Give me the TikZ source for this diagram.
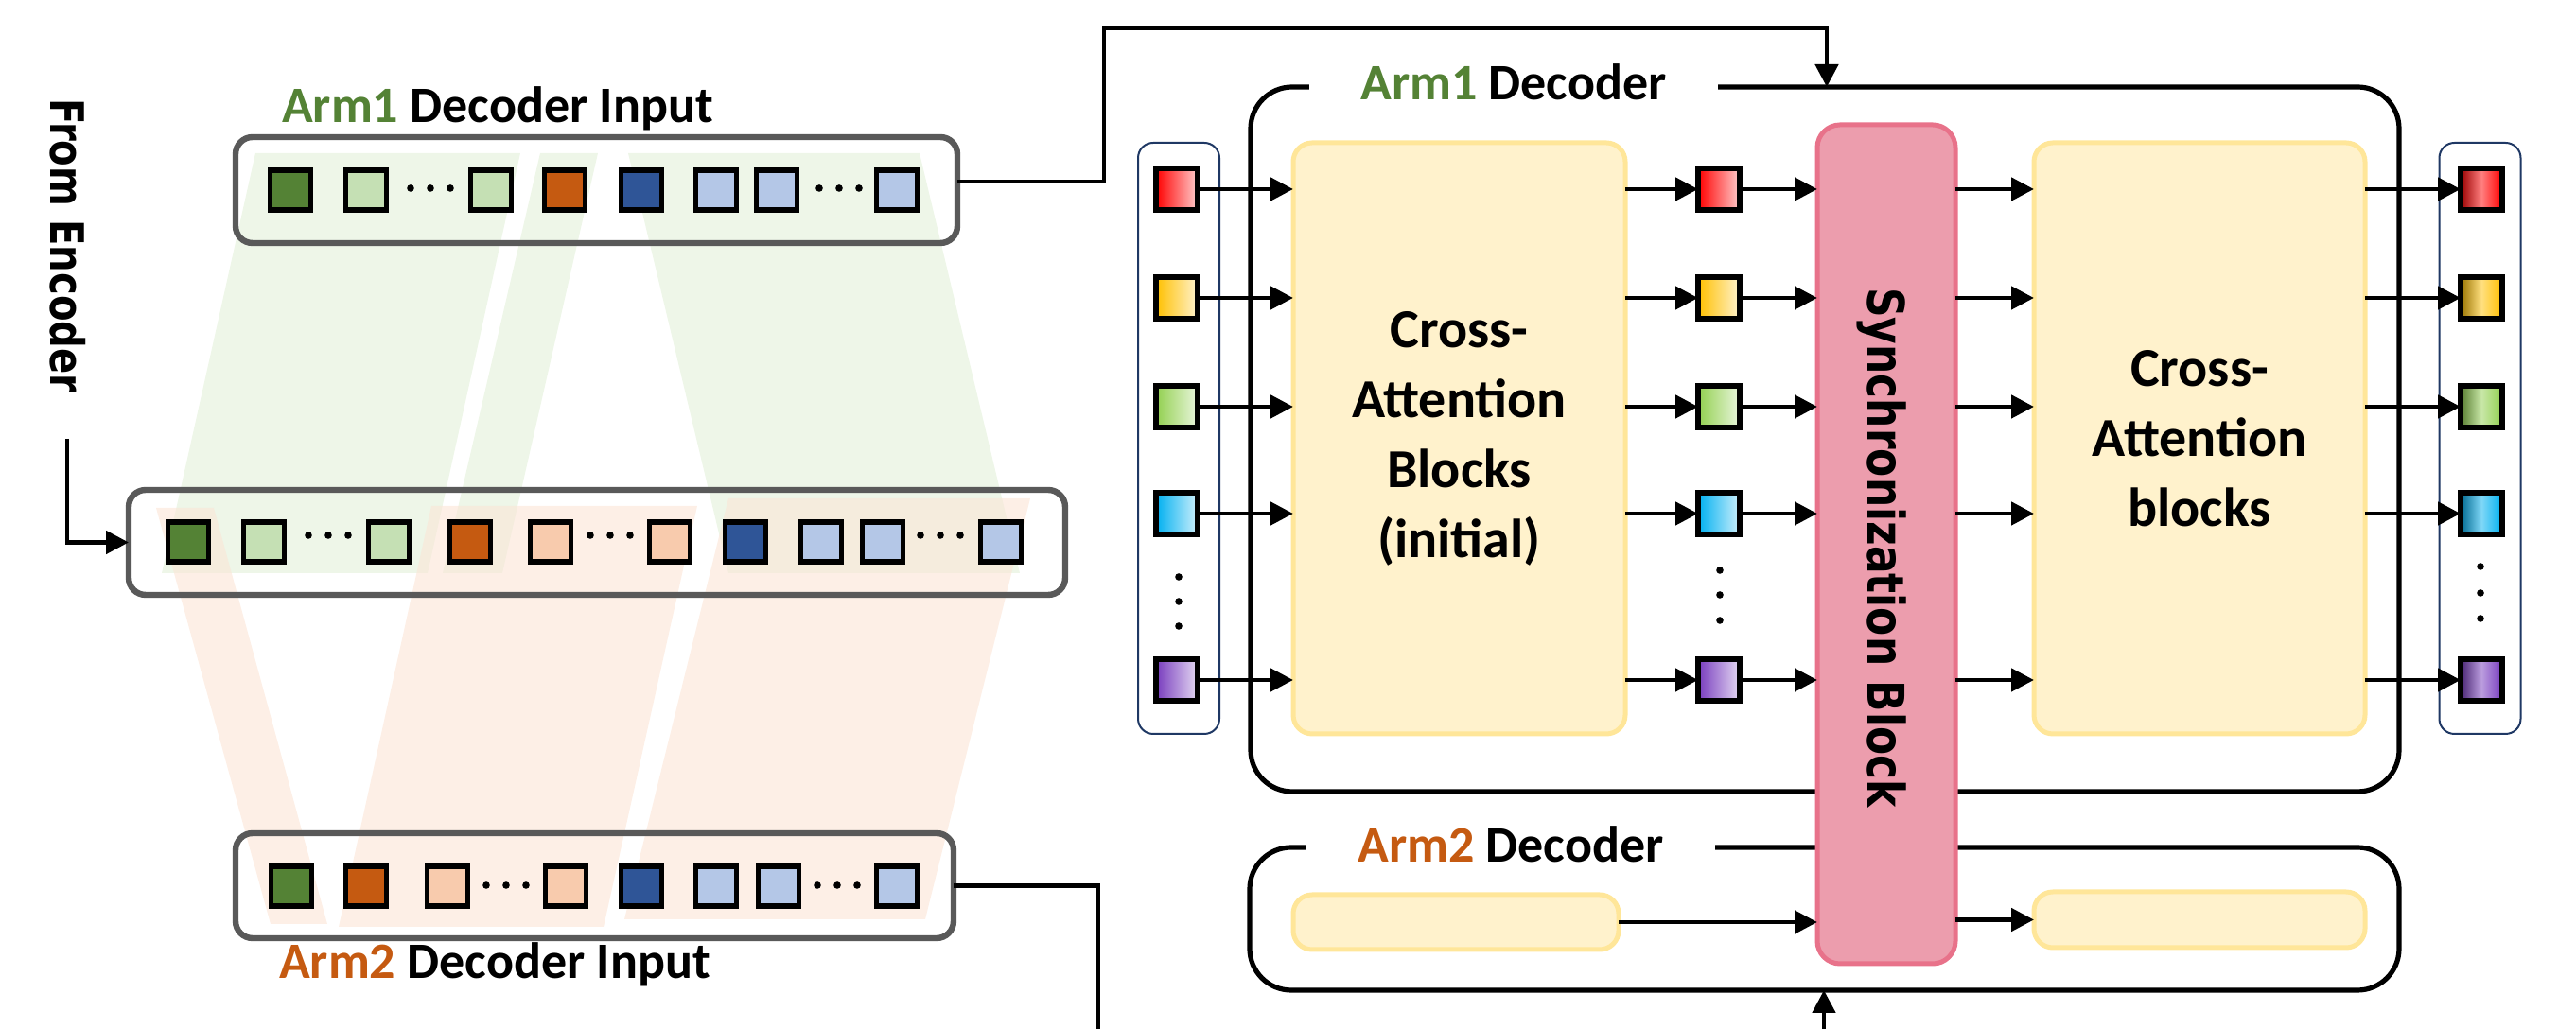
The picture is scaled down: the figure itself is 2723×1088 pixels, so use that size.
\documentclass[tikz,border=0pt]{standalone}
\usepackage{fontspec}
\usepackage{tikz}
\usetikzlibrary{calc}
\usetikzlibrary{arrows.meta}
\usetikzlibrary{positioning}
\setmainfont{Carlito}
\newfontfamily\widefont[FakeStretch=0.82]{DejaVu Sans Bold}
\definecolor{armgreen}{RGB}{84, 130, 53}
\definecolor{armorange}{RGB}{197, 90, 17}
\definecolor{palegreen}{RGB}{197, 224, 180}
\definecolor{peach}{RGB}{248, 203, 173}
\definecolor{darkblue}{RGB}{47, 85, 151}
\definecolor{paleblue}{RGB}{180, 199, 231}
\definecolor{bargray}{RGB}{89, 89, 89}
\definecolor{bandgreen}{RGB}{226, 240, 217}
\definecolor{bandorange}{RGB}{251, 229, 214}
\definecolor{blockfill}{RGB}{255, 242, 204}
\definecolor{blockline}{RGB}{255, 230, 153}
\definecolor{syncfill}{RGB}{236, 157, 173}
\definecolor{syncline}{RGB}{232, 114, 138}
\definecolor{colline}{RGB}{31, 56, 100}
\definecolor{tokred}{RGB}{255, 0, 0}
\definecolor{tokyellow}{RGB}{255, 192, 0}
\definecolor{tokgreen}{RGB}{146, 208, 80}
\definecolor{tokcyan}{RGB}{0, 176, 240}
\definecolor{tokpurple}{RGB}{120, 60, 190}
\tikzset{
  tok/.style={draw=black, line width=1.3pt, minimum width=10.7pt, minimum height=10.5pt, inner sep=0pt, outer sep=0pt},
  ctok/.style={tok, minimum width=11pt, minimum height=11pt, left color=#1, right color=#1!20},
  otok/.style={tok, minimum width=11pt, minimum height=11pt, left color=#1!60!black, right color=#1, middle color=#1!50!white},
  bar/.style={draw=bargray, line width=1.6pt, rounded corners=4.5pt, inner sep=0pt, outer sep=0pt},
  dec/.style={draw=black, line width=1.3pt, rounded corners=11pt, inner sep=0pt, outer sep=0pt},
  col/.style={draw=colline, line width=0.5pt, rounded corners=4pt, minimum width=21.5pt, minimum height=156.25pt, inner sep=0pt, outer sep=0pt},
  blk/.style={draw=blockline, fill=blockfill, line width=1.25pt, rounded corners=5pt, inner sep=0pt, outer sep=0pt, align=center, font=\bfseries\fontsize{14.5}{18.5}\selectfont},
  lbl/.style={font=\bfseries\fontsize{13.5}{16}\selectfont, inner sep=0pt},
  arr/.style={line width=1.2pt, -{Triangle[length=6pt, width=6pt]}},
}
\begin{document}
\begin{tikzpicture}[x=0.25pt, y=-0.25pt]
\useasboundingbox (0,0) rectangle (2723,1088);
\clip (0,0) rectangle (2723,1088);
\fill[bandgreen, fill opacity=0.6]  ( 270,162) -- ( 550,162) -- ( 452,606) -- ( 171,606) -- cycle;
\fill[bandgreen, fill opacity=0.6]  ( 571,162) -- ( 632,162) -- ( 531,606) -- ( 468,606) -- cycle;
\fill[bandgreen, fill opacity=0.6]  ( 664,162) -- ( 972,162) -- (1078,606) -- ( 770,606) -- cycle;
\fill[bandorange, fill opacity=0.6] ( 165,537) -- ( 226,537) -- ( 346,977) -- ( 286,977) -- cycle;
\fill[bandorange, fill opacity=0.6] ( 456,535) -- ( 737,535) -- ( 638,980) -- ( 358,980) -- cycle;
\fill[bandorange, fill opacity=0.6] ( 770,527) -- (1089,527) -- ( 978,972) -- ( 660,972) -- cycle;
\node[bar, minimum width=190.75pt, minimum height=28pt]    (topbar) at (630.5,201)   {};
\node[bar, minimum width=247.5pt,  minimum height=27.75pt] (midbar) at (631,573.5)   {};
\node[bar, minimum width=189.75pt, minimum height=27.75pt] (botbar) at (628.5,936.5) {};
\foreach \x/\c [count=\k] in {307/armgreen, 387/palegreen, 519/palegreen, 597/armorange, 678/darkblue, 757/paleblue, 821/paleblue, 948/paleblue}
  \node[tok, fill=\c] (ta\k) at (\x,201) {};
\foreach \x/\c [count=\k] in {199/armgreen, 279/palegreen, 411/palegreen, 497/armorange, 582/peach, 708/peach, 788/darkblue, 868/paleblue, 933/paleblue, 1058/paleblue}
  \node[tok, fill=\c] (tm\k) at (\x,573) {};
\foreach \x/\c [count=\k] in {308/armgreen, 387/armorange, 473/peach, 598/peach, 678/darkblue, 757/paleblue, 823/paleblue, 948/paleblue}
  \node[tok, fill=\c] (tb\k) at (\x,937) {};
\foreach \x in {455,887} \foreach \d in {-21,0,21} \fill (\x+\d,199) circle (0.95pt);
\foreach \x in {347,645,994} \foreach \d in {-21,0,21} \fill (\x+\d,566) circle (0.95pt);
\foreach \x in {535,885} \foreach \d in {-21,0,21} \fill (\x+\d,936) circle (0.95pt);
\node[lbl, anchor=base] (toplbl) at (526,130)  {\textcolor{armgreen}{Arm1} Decoder Input};
\node[lbl, anchor=base] (botlbl) at (523,1035) {\textcolor{armorange}{Arm2} Decoder Input};
\node[font=\widefont\fontsize{12.25}{14}\selectfont, rotate=-90, inner sep=0pt] (enctxt) at (72,260) {From Encoder};
\coordinate (encin) at (71,464);
\draw[arr] (encin) |- (midbar.west);
\node[dec, minimum width=303.5pt,  minimum height=186.25pt] (dec1) at (1929,464.5)   {};
\node[dec, minimum width=303.75pt, minimum height=37.75pt]  (dec2) at (1928.5,971.5) {};
\node[col] (incol)  at (1246,463.5)   {};
\node[col] (outcol) at (2621.5,463.5) {};
\node[blk, minimum width=87.75pt, minimum height=156.25pt] (ca1)  at (1542.5,463.5) {Cross-\\Attention\\Blocks\\(initial)};
\node[blk, minimum width=87.5pt,  minimum height=156.25pt] (ca2)  at (2325,463.5)   {Cross-\\Attention\\blocks};
\node[blk, minimum width=86pt,    minimum height=14.5pt]   (a2in)  at (1539,975)    {};
\node[blk, minimum width=87.5pt,  minimum height=14.75pt]  (a2out) at (2325,972.5)  {};
\node[draw=syncline, fill=syncfill, line width=1.25pt, rounded corners=6pt, minimum width=36.5pt, minimum height=221.75pt, inner sep=0pt, outer sep=0pt] (sync) at (1994,575.5) {};
\node[font=\widefont\fontsize{13.4}{16}\selectfont, rotate=-90, inner sep=0pt] (synctxt) at (1989,579) {Synchronization Block};
\foreach \k/\y/\c in {1/200/tokred, 2/315/tokyellow, 3/430/tokgreen, 4/543/tokcyan, 5/719/tokpurple} {
  \node[ctok=\c] (in\k)  at (1244,\y) {};
  \node[ctok=\c] (mid\k) at (1817,\y) {};
  \node[otok=\c] (out\k) at (2623,\y) {};
  \draw[arr] (in\k.east) -- (in\k.east -| ca1.west);
  \draw[arr] (mid\k.west -| ca1.east) -- (mid\k.west);
  \draw[arr] (mid\k.east) -- (mid\k.east -| sync.west);
  \draw[arr] (sync.east |- mid\k) -- (ca2.west |- mid\k);
  \draw[arr] (ca2.east |- out\k) -- (out\k.west);
}
\foreach \y in {610,636,662} \fill (1246,\y) circle (0.95pt);
\foreach \y in {603,629,656} \fill (1818,\y) circle (0.95pt);
\foreach \y in {599,627,654} \fill (2622,\y) circle (0.95pt);
\draw[arr] (a2in.east) -- (a2in.east -| sync.west);
\draw[arr] (sync.east |- a2out.west) -- (a2out.west);
\coordinate (upturn)   at (1167,30);
\coordinate (armin1)   at (1931,92);
\coordinate (downturn) at (1161,1120);
\coordinate (armin2)   at (1928,1047);
\draw[arr] ([yshift=2.25pt]topbar.east) -| (upturn) -| (armin1);
\draw[arr] (botbar.east) -| (downturn) -| (armin2);
\node[lbl, anchor=base, fill=white, inner xsep=13.5pt, inner ysep=2pt] (dec1lbl) at (1600,106) {\textcolor{armgreen}{Arm1} Decoder};
\node[lbl, anchor=base, fill=white, inner xsep=13.5pt, inner ysep=2pt] (dec2lbl) at (1597,912) {\textcolor{armorange}{Arm2} Decoder};
\end{tikzpicture}
\end{document}
